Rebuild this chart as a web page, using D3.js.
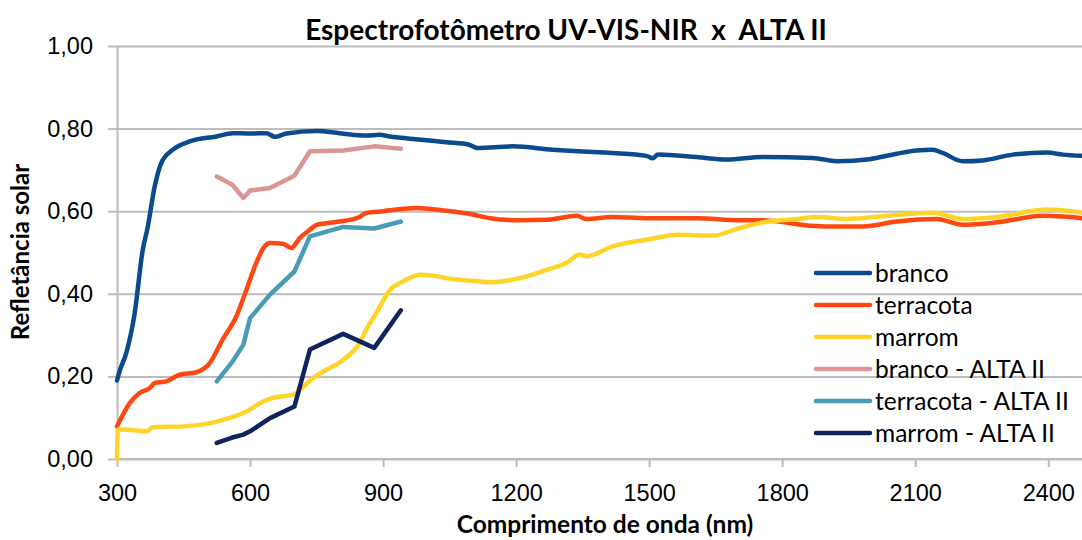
<!DOCTYPE html>
<html>
<head>
<meta charset="utf-8">
<script src="https://cdn.jsdelivr.net/npm/d3@7"></script>
<style>
  body { margin: 0; background: #fff; }
  svg { display: block; font-family: Lato, "Open Sans", sans-serif; }
  .grid line { stroke: #bcbcbc; stroke-width: 2; }
  .grid path { display: none; }
  .axis path, .axis line { stroke: #bcbcbc; stroke-width: 2; }
  .axis text { fill: #000; font-size: 23.5px; }
  .line { fill: none; stroke-width: 4.5; stroke-linejoin: round; stroke-linecap: round; }
</style>
</head>
<body>
<svg width="1082" height="540"></svg>
<script>
var yTicks = [0, 0.2, 0.4, 0.6, 0.8, 1.0],
    xTicks = [300, 600, 900, 1200, 1500, 1800, 2100, 2400];

var seriesNames = ["branco", "terracota", "marrom", "branco - ALTA II", "terracota - ALTA II", "marrom - ALTA II"],
    seriesColors = ["#0b4a8c", "#ff4712", "#ffd42a", "#d99694", "#4a9bb5", "#0f235f"];

// espectrofotometro
var brancoWl = [300, 305, 321, 340, 358, 369, 385, 400, 426, 464, 524, 561, 600, 637, 656, 682, 750, 802, 862, 892, 915, 967, 1043, 1094, 1112, 1192, 1282, 1343, 1417, 1494, 1508, 1519, 1607, 1675, 1756, 1869, 1923, 1997, 2058, 2103, 2139, 2162, 2207, 2252, 2320, 2397, 2433, 2476],
    brancoR  = [0.19, 0.21, 0.257, 0.354, 0.506, 0.56, 0.66, 0.717, 0.749, 0.769, 0.781, 0.789, 0.788, 0.789, 0.78, 0.788, 0.794, 0.789, 0.783, 0.785, 0.781, 0.775, 0.767, 0.761, 0.753, 0.757, 0.749, 0.745, 0.741, 0.734, 0.728, 0.737, 0.731, 0.725, 0.731, 0.729, 0.721, 0.726, 0.739, 0.747, 0.749, 0.741, 0.721, 0.723, 0.737, 0.742, 0.737, 0.734];

var terracotaWl = [300, 329, 351, 374, 385, 411, 441, 479, 509, 538, 569, 592, 614, 633, 644, 674, 693, 712, 735, 750, 802, 847, 862, 900, 975, 1043, 1102, 1141, 1208, 1269, 1337, 1359, 1418, 1494, 1607, 1704, 1756, 1862, 1907, 1982, 2058, 2148, 2207, 2284, 2388, 2433, 2476],
    terracotaR  = [0.079, 0.136, 0.16, 0.172, 0.184, 0.188, 0.204, 0.21, 0.232, 0.289, 0.345, 0.41, 0.475, 0.515, 0.523, 0.521, 0.511, 0.535, 0.555, 0.567, 0.575, 0.586, 0.596, 0.6, 0.608, 0.601, 0.592, 0.583, 0.578, 0.579, 0.589, 0.581, 0.586, 0.583, 0.583, 0.578, 0.578, 0.565, 0.563, 0.563, 0.575, 0.581, 0.567, 0.573, 0.589, 0.587, 0.583];

var marromWl = [300, 302, 321, 366, 381, 449, 502, 547, 592, 629, 652, 697, 742, 772, 810, 847, 862, 885, 916, 945, 983, 1012, 1043, 1118, 1141, 1208, 1269, 1314, 1343, 1359, 1418, 1494, 1568, 1643, 1704, 1756, 1832, 1877, 1945, 2019, 2139, 2207, 2284, 2397, 2476],
    marromR  = [0, 0.071, 0.071, 0.067, 0.077, 0.079, 0.085, 0.097, 0.115, 0.139, 0.148, 0.156, 0.196, 0.216, 0.24, 0.281, 0.313, 0.354, 0.41, 0.43, 0.446, 0.444, 0.438, 0.43, 0.428, 0.438, 0.458, 0.475, 0.495, 0.491, 0.515, 0.531, 0.543, 0.541, 0.559, 0.573, 0.581, 0.586, 0.581, 0.587, 0.596, 0.581, 0.586, 0.604, 0.596];

// ALTA II (bandas)
var altaWl = [525, 560, 585, 600, 645, 700, 735, 810, 880, 940],
    brancoAlta    = [0.684, 0.664, 0.632, 0.65, 0.656, 0.686, 0.745, 0.747, 0.757, 0.751],
    terracotaAlta = [0.188, 0.235, 0.277, 0.341, 0.398, 0.454, 0.539, 0.562, 0.558, 0.575],
    marromAlta    = [0.039, 0.052, 0.059, 0.067, 0.099, 0.127, 0.265, 0.303, 0.269, 0.36];

var series = [
  d3.zip(brancoWl, brancoR),
  d3.zip(terracotaWl, terracotaR),
  d3.zip(marromWl, marromR),
  d3.zip(altaWl, brancoAlta),
  d3.zip(altaWl, terracotaAlta),
  d3.zip(altaWl, marromAlta)
];

var svg = d3.select("svg"),
    margin = {top: 46, right: 0, bottom: 81, left: 117},
    width = +svg.attr("width") - margin.left - margin.right,
    height = +svg.attr("height") - margin.top - margin.bottom,
    g = svg.append("g").attr("transform", "translate(" + margin.left + "," + margin.top + ")");

var x = d3.scaleLinear()
    .domain([300, 2476])
    .range([0, width]);

var y = d3.scaleLinear()
    .domain([0, 1])
    .range([height, 0]);

// spectra are smoothed a bit, ALTA II bands are straight segments
var lineSmooth = d3.line()
    .curve(d3.curveMonotoneX)
    .x(function(d) { return x(d[0]); })
    .y(function(d) { return y(d[1]); });

var lineStraight = d3.line()
    .x(function(d) { return x(d[0]); })
    .y(function(d) { return y(d[1]); });

var fmt = function(d) { return d.toFixed(2).replace(".", ","); };

// gridlines
g.append("g")
    .attr("class", "grid")
    .call(d3.axisLeft(y).tickValues(yTicks).tickSize(-width).tickFormat(""));

g.append("g")
    .attr("class", "axis axis--y")
    .call(d3.axisLeft(y).tickValues(yTicks).tickSize(9).tickSizeOuter(0).tickPadding(15).tickFormat(fmt));

g.append("g")
    .attr("class", "axis axis--x")
    .attr("transform", "translate(0," + height + ")")
    .call(d3.axisBottom(x).tickValues(xTicks).tickSize(8).tickSizeOuter(0).tickPadding(17).tickFormat(d3.format("d")));

g.selectAll(".axis--x .domain").attr("d", "M0,0H" + width);

g.append("defs").append("clipPath")
    .attr("id", "clip")
  .append("rect")
    .attr("x", -3)
    .attr("width", width + 3)
    .attr("height", height + 3);

g.append("g")
    .attr("clip-path", "url(#clip)")
  .selectAll("path")
  .data(series)
  .enter().append("path")
    .attr("class", "line")
    .attr("stroke", function(d, i) { return seriesColors[i]; })
    .attr("d", function(d, i) { return i < 3 ? lineSmooth(d) : lineStraight(d); });

// legend
var legend = svg.append("g")
    .attr("transform", "translate(816,273)");

var item = legend.selectAll("g")
  .data(seriesNames)
  .enter().append("g")
    .attr("transform", function(d, i) { return "translate(0," + (i * 32) + ")"; });

item.append("line")
    .attr("x1", 0).attr("x2", 54)
    .attr("stroke", function(d, i) { return seriesColors[i]; })
    .attr("stroke-width", 4.5)
    .attr("stroke-linecap", "round");

item.append("text")
    .attr("x", 59)
    .attr("dy", "0.35em")
    .style("font-size", "24.5px")
    .text(function(d) { return d; });

// titles
svg.append("text")
    .attr("x", 566).attr("y", 40)
    .attr("text-anchor", "middle")
    .attr("xml:space", "preserve")
    .style("font-size", "28px").style("font-weight", "bold")
    .text("Espectrofotômetro UV-VIS-NIR  x  ALTA II");

svg.append("text")
    .attr("x", 605).attr("y", 533)
    .attr("text-anchor", "middle")
    .style("font-size", "24.5px").style("font-weight", "bold")
    .text("Comprimento de onda (nm)");

svg.append("text")
    .attr("transform", "translate(29,252) rotate(-90)")
    .attr("text-anchor", "middle")
    .style("font-size", "24px").style("font-weight", "bold")
    .text("Refletância solar");
</script>
</body>
</html>
